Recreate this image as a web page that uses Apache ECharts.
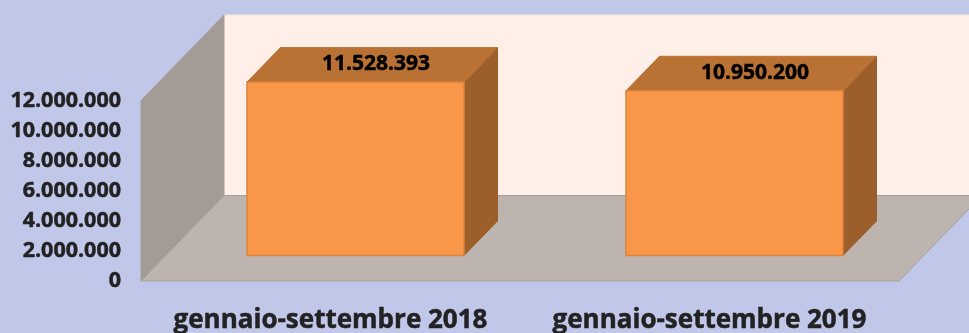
<!DOCTYPE html>
<html><head><meta charset="utf-8">
<style>html,body{margin:0;padding:0;background:#C0C7E8}#c{width:969px;height:333px}</style>
<script src="https://cdn.jsdelivr.net/npm/echarts@6/dist/echarts.min.js"></script>
</head><body><div id="c"></div>
<script>
const categories = ['gennaio-settembre 2018', 'gennaio-settembre 2019'];
const values = [11528393, 10950200];
const yTicks = [0, 2000000, 4000000, 6000000, 8000000, 10000000, 12000000];

const fmt = v => String(v).replace(/\B(?=(\d{3})+$)/g, '.');
const FONT = '"Open Sans","Noto Sans",sans-serif';
const INK = '#222222';
const chart = echarts.init(document.getElementById('c'), null, {renderer: 'canvas'});

function poly(points, fill, stroke) {
  return {type: 'polygon', shape: {points}, style: {fill, stroke: stroke || fill, lineWidth: 1}};
}
function renderRoom(params, api) {
  const cs = params.coordSys;
  const x = cs.x, y = cs.y, w = cs.width, h = cs.height, dx = 83, dy = 85.5;
  return {type: 'group', children: [
    poly([[x + dx, y - dy], [x + w + dx, y - dy], [x + w + dx, y + h - dy], [x + dx, y + h - dy]], '#FEF0E8', '#F3E6DF'),
    poly([[x, y], [x + dx, y - dy], [x + dx, y + h - dy], [x, y + h]], '#A39B96', '#A8A09B'),
    poly([[x, y + h], [x + dx, y + h - dy], [x + w + dx, y + h - dy], [x + w, y + h]], '#BEB4AF', '#A5A09C')
  ]};
}
function renderBar(params, api) {
  const base = api.coord([api.value(0), 0]);
  const top = api.coord([api.value(0), api.value(1)]);
  const band = api.size([1, 0])[0];
  const bw = band * 0.5726;
  const shift = 25, lift = 25.5, dx = 33.5, dy = 34.5;
  const l = base[0] + shift - bw / 2, r = l + bw;
  const b = base[1] - lift, t = top[1] - lift;
  const edge = '#D98440';
  return {type: 'group', children: [
    poly([[r, t], [r + dx, t - dy], [r + dx, b - dy], [r, b]], '#9C5F2B'),
    poly([[l, t], [l + dx, t - dy], [r + dx, t - dy], [r, t]], '#BA7134'),
    {type: 'rect', shape: {x: l, y: t, width: bw, height: b - t},
     style: {fill: '#F99647', stroke: edge, lineWidth: 1.5}},
    {type: 'text', x: (l + r) / 2 + 20.5, y: t - 18,
     style: {text: fmt(api.value(1)), fill: '#000', font: 'bold 21px ' + FONT, align: 'center', verticalAlign: 'middle',
             stroke: '#000', lineWidth: 0.5}}
  ]};
}
chart.setOption({
  backgroundColor: '#C0C7E8',
  animation: false,
  grid: {left: 141, top: 100.5, width: 758, height: 180.5, containLabel: false, outerBoundsMode: 'none'},
  xAxis: {type: 'category', data: categories,
    axisLine: {show: false}, axisTick: {show: false},
    axisLabel: {interval: 0, hideOverlap: false, color: INK, fontFamily: FONT, fontWeight: 'bold', fontSize: 26, margin: 27,
                textBorderColor: INK, textBorderWidth: 0.5}},
  yAxis: {type: 'value', min: yTicks[0], max: yTicks[yTicks.length - 1], interval: yTicks[1] - yTicks[0],
    axisLine: {show: false}, axisTick: {show: false}, splitLine: {show: false},
    axisLabel: {color: INK, fontFamily: FONT, fontWeight: 'bold', fontSize: 21.5, margin: 20, formatter: fmt,
                padding: [3, 0, 0, 0], textBorderColor: INK, textBorderWidth: 0.5}},
  series: [
    {type: 'custom', coordinateSystem: 'cartesian2d', clip: false, silent: true, z: 1,
     renderItem: renderRoom, data: [[0, 0]], encode: {x: 0, y: 1}},
    {type: 'custom', coordinateSystem: 'cartesian2d', clip: false, z: 2,
     renderItem: renderBar, data: values.map((v, i) => [i, v]), encode: {x: 0, y: 1}}
  ]
});
</script></body></html>
